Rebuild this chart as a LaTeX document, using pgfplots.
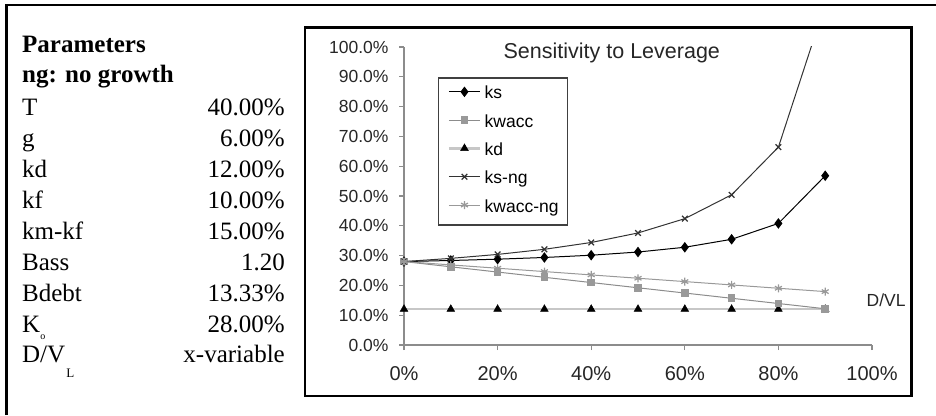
\documentclass[border=0pt]{standalone}
\usepackage{fontspec}
\setmainfont{Liberation Sans}
\newfontfamily\tabfont{Liberation Serif}
\usepackage{pgfplots}
\pgfplotsset{compat=1.18}

\begin{document}
\begin{tikzpicture}[x=1bp,y=1bp]
\useasboundingbox (0,0) rectangle (936,415);
% outer frame (cut off at right and bottom)
\draw[line width=2.5bp] (6.5,0) -- (6.5,410) -- (936,410);
% chart frame
\draw[line width=2.5bp] (305,19) rectangle (911.5,387.5);

% parameters
\begin{scope}[every node/.style={inner sep=0pt, font=\tabfont\fontsize{25bp}{29bp}\selectfont}]
\node[anchor=base west] at (22,363) {\bfseries Parameters};
\node[anchor=base west] at (22,333) {\bfseries ng: no growth};
\node[anchor=base west] at (22,300) {T};
\node[anchor=base east] at (285,300) {40.00\%};
\node[anchor=base west] at (22,269) {g};
\node[anchor=base east] at (285,269) {6.00\%};
\node[anchor=base west] at (22,238) {kd};
\node[anchor=base east] at (285,238) {12.00\%};
\node[anchor=base west] at (22,207) {kf};
\node[anchor=base east] at (285,207) {10.00\%};
\node[anchor=base west] at (22,176) {km-kf};
\node[anchor=base east] at (285,176) {15.00\%};
\node[anchor=base west] at (22,145) {Bass};
\node[anchor=base east] at (285,145) {1.20};
\node[anchor=base west] at (22,114) {Bdebt};
\node[anchor=base east] at (285,114) {13.33\%};
\node[anchor=base west] at (22,83) {K\raisebox{-7.5bp}{\fontsize{10bp}{10bp}\selectfont o}};
\node[anchor=base east] at (285,83) {28.00\%};
\node[anchor=base west] at (22,53) {D/V\hspace{1bp}\raisebox{-15bp}{\fontsize{13bp}{13bp}\selectfont L}};
\node[anchor=base east] at (285,53) {x-variable};
\end{scope}

\begin{axis}[
  at={(404bp,70bp)}, anchor=south west, scale only axis,
  width=468bp, height=298bp,
  xmin=0, xmax=100, ymin=0, ymax=100,
  axis lines*=left,
  axis line style={black!45, line width=1.5bp},
  tick align=outside, major tick length=5bp,
  major tick style={black!45, line width=1.2bp},
  xtick={0,20,...,100}, ytick={0,10,...,100},
  xticklabel={\pgfmathprintnumber{\tick}\%},
  yticklabel={\pgfmathprintnumber[fixed,fixed zerofill,precision=1]{\tick}\%},
  /pgf/number format/assume math mode=true,
  x tick label style={font=\fontsize{20bp}{24bp}\selectfont, black!85, yshift=-13bp},
  y tick label style={font=\fontsize{17.5bp}{20bp}\selectfont, black!85, xshift=-7bp},
  clip mode=individual,
  legend cell align=left,
  legend style={at={(0.0726,0.899)}, anchor=north west, draw=black!75,
    line width=1.5bp, fill=white, inner sep=9bp, row sep=12.3bp, column sep=3.5bp,
    font=\fontsize{17.5bp}{20bp}\selectfont,
    nodes={inner sep=0pt, text height=12bp, text depth=4bp}},
  legend image code/.code={\draw[mark repeat=2,mark phase=2] plot coordinates {(0bp,3bp)(15.5bp,3bp)(31bp,3bp)};},
]
% kd drawn first so kwacc lies on top of it near 90%
\addplot[black!22, line width=2.5bp, mark=triangle*, mark size=4.5bp,
  mark options={black, fill=black, line width=0.5bp}, forget plot] coordinates {
  (0,12) (10,12) (20,12) (30,12) (40,12) (50,12) (60,12) (70,12) (80,12) (90,12)};

\addplot[black, line width=1bp, mark=diamond*, mark size=4.5bp,
  mark options={solid, fill=black}] coordinates {
  (0,28.00) (10,28.36) (20,28.80) (30,29.37) (40,30.13) (50,31.20) (60,32.80) (70,35.47) (80,40.80) (90,56.80)};
\addlegendentry{ks}

\addplot[black!45, line width=1bp, mark=square*, mark size=3.3bp,
  mark options={fill=black!40, draw=black!40}] coordinates {
  (0,28.00) (10,26.24) (20,24.48) (30,22.72) (40,20.96) (50,19.20) (60,17.44) (70,15.68) (80,13.92) (90,12.16)};
\addlegendentry{kwacc}

\addlegendimage{black!22, line width=2.5bp, mark=triangle*, mark size=4.5bp,
  mark options={black, fill=black, line width=0.5bp}}
\addlegendentry{kd}

\addplot[black!80, line width=1bp, mark=x, mark size=4bp,
  mark options={line width=1.2bp}] coordinates {
  (0,28.00) (10,29.07) (20,30.40) (30,32.11) (40,34.40) (50,37.60) (60,42.40) (70,50.40) (80,66.40) (90,114.40)};
\addlegendentry{ks-ng}

\addplot[black!40, line width=1bp, mark=asterisk, mark size=4bp,
  mark options={line width=1.2bp}] coordinates {
  (0,28.00) (10,26.88) (20,25.76) (30,24.64) (40,23.52) (50,22.40) (60,21.28) (70,20.16) (80,19.04) (90,17.92)};
\addlegendentry{kwacc-ng}

\node[anchor=base, font=\fontsize{21.5bp}{25bp}\selectfont, black!85] at (axis cs:44.4,96.3) {Sensitivity to Leverage};
\node[anchor=base west, font=\fontsize{17.5bp}{20bp}\selectfont, black!85] at (axis cs:98.1,12.9) {D/VL};
\end{axis}
\end{tikzpicture}
\end{document}
